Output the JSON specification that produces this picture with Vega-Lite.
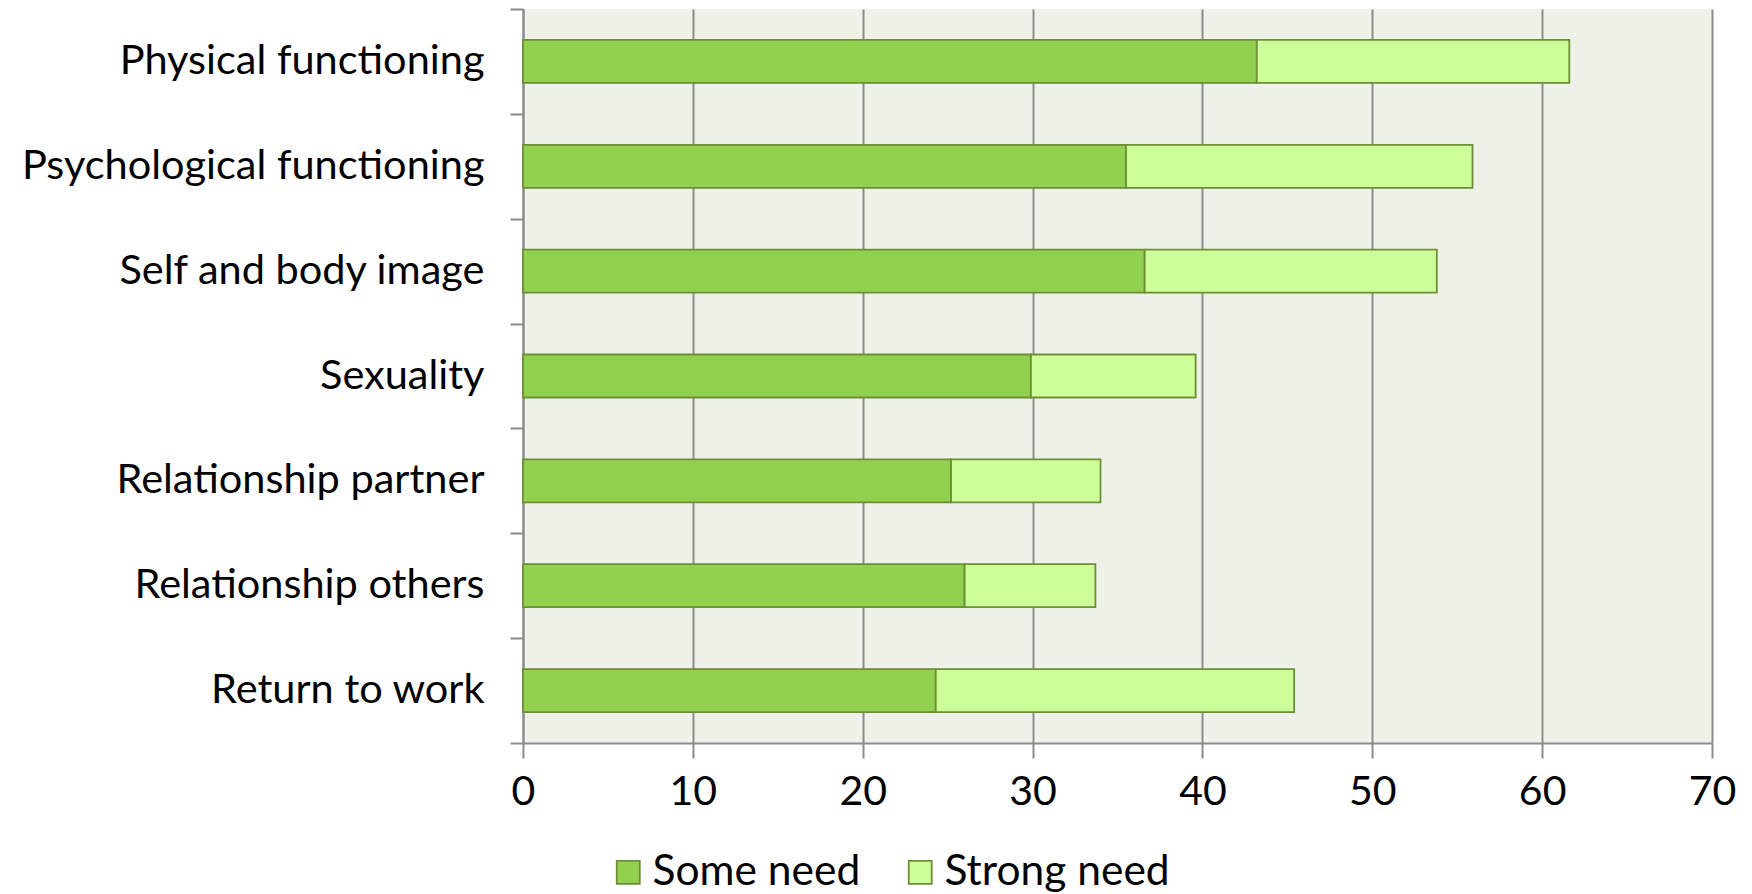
{
  "$schema": "https://vega.github.io/schema/vega-lite/v6.json",
  "width": 1189,
  "height": 734,
  "autosize": "none",
  "padding": {"left": 523, "top": 9, "right": 40, "bottom": 151},
  "background": "white",
  "config": {
    "view": {"fill": "#EFF2E9", "stroke": null},
    "font": "Lato",
    "axis": {"labelFont": "Lato", "labelColor": "#000000", "domainColor": "#8C8C8C", "tickColor": "#8C8C8C", "domainWidth": 2, "tickWidth": 2}
  },
  "data": {
    "values": [
      {"area": "Physical functioning", "need": "Some need", "rank": 1, "pct": 43.2},
      {"area": "Physical functioning", "need": "Strong need", "rank": 2, "pct": 18.4},
      {"area": "Psychological functioning", "need": "Some need", "rank": 1, "pct": 35.5},
      {"area": "Psychological functioning", "need": "Strong need", "rank": 2, "pct": 20.4},
      {"area": "Self and body image", "need": "Some need", "rank": 1, "pct": 36.6},
      {"area": "Self and body image", "need": "Strong need", "rank": 2, "pct": 17.2},
      {"area": "Sexuality", "need": "Some need", "rank": 1, "pct": 29.9},
      {"area": "Sexuality", "need": "Strong need", "rank": 2, "pct": 9.7},
      {"area": "Relationship partner", "need": "Some need", "rank": 1, "pct": 25.2},
      {"area": "Relationship partner", "need": "Strong need", "rank": 2, "pct": 8.8},
      {"area": "Relationship others", "need": "Some need", "rank": 1, "pct": 26.0},
      {"area": "Relationship others", "need": "Strong need", "rank": 2, "pct": 7.7},
      {"area": "Return to work", "need": "Some need", "rank": 1, "pct": 24.3},
      {"area": "Return to work", "need": "Strong need", "rank": 2, "pct": 21.1}
    ]
  },
  "mark": {"type": "bar", "height": {"band": 0.41}, "stroke": "#6E8E35", "strokeWidth": 1.8},
  "encoding": {
    "y": {
      "field": "area",
      "type": "nominal",
      "sort": null,
      "scale": {"paddingInner": 0, "paddingOuter": 0},
      "axis": {
        "title": null,
        "labelFontSize": 41.5,
        "labelLimit": 0,
        "labelPadding": 26,
        "tickSize": 13,
        "tickBand": "extent",
        "grid": false
      }
    },
    "x": {
      "field": "pct",
      "type": "quantitative",
      "stack": "zero",
      "scale": {"domain": [0, 70], "nice": false},
      "axis": {
        "title": null,
        "values": [0, 10, 20, 30, 40, 50, 60, 70],
        "labelFontSize": 41,
        "labelPadding": 14,
        "tickSize": 15,
        "grid": true,
        "gridColor": "#8C8C8C",
        "gridWidth": 2,
        "labelFlush": false
      }
    },
    "color": {
      "field": "need",
      "type": "nominal",
      "scale": {"domain": ["Some need", "Strong need"], "range": ["#92D050", "#CCFF99"]},
      "legend": {
        "title": null,
        "orient": "none",
        "direction": "horizontal",
        "legendX": 84,
        "legendY": 842,
        "symbolType": "square",
        "symbolSize": 529,
        "symbolStrokeColor": "#6E8E35",
        "symbolStrokeWidth": 1.8,
        "labelFontSize": 42.5,
        "labelLimit": 0,
        "labelFont": "Lato",
        "labelColor": "#000000",
        "columnPadding": 38,
        "labelOffset": 3
      }
    },
    "order": {"field": "rank", "type": "quantitative"}
  }
}
